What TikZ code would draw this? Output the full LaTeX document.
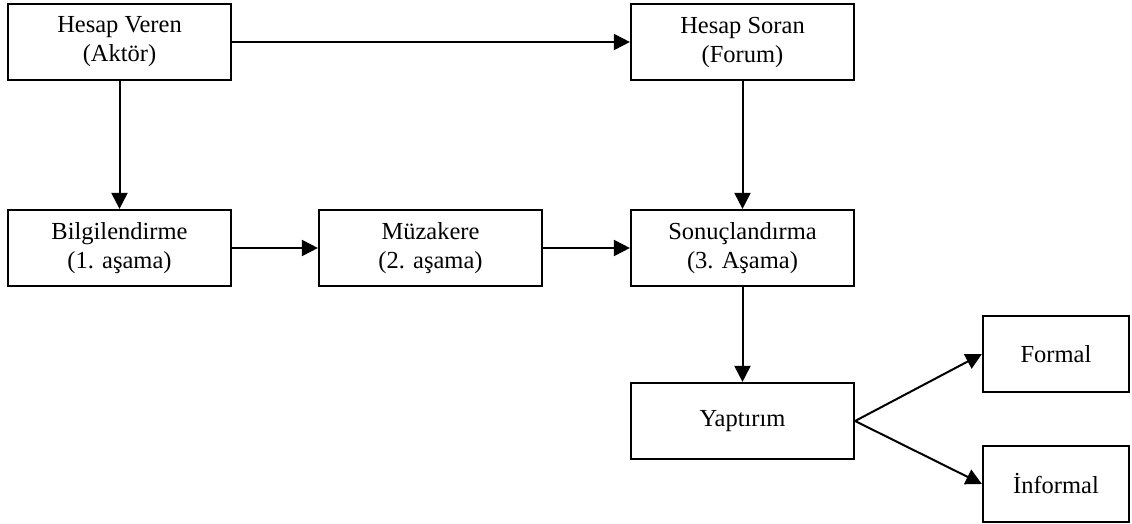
\documentclass[tikz,border=0pt]{standalone}
\usepackage{fontspec}
\setmainfont{Liberation Serif}
\usetikzlibrary{arrows.meta}
\begin{document}
\begin{tikzpicture}[x=1pt,y=-1pt,
  box/.style={draw,line width=2.2pt,minimum width=223pt,minimum height=76pt,inner sep=0pt,align=center,font=\fontsize{24.5}{29}\selectfont},
  smallbox/.style={box,minimum width=146pt},
  arr/.style={line width=2pt,-{Triangle[length=16pt,width=16pt]}}]
\useasboundingbox (0,0) rectangle (1132,524);
\node[box] (hv) at (119.5,42) {Hesap Veren\\(Aktör)};
\node[box] (hs) at (742.5,42) {Hesap Soran\\(Forum)};
\node[box] (bil) at (119.5,248) {Bilgilendirme\\(1. aşama)};
\node[box] (muz) at (430.5,248) {Müzakere\\(2. aşama)};
\node[box] (son) at (742.5,248) {Sonuçlandırma\\(3. Aşama)};
\node[box] (yap) at (742.5,421) {Yaptırım};
\node[smallbox] (for) at (1056,354) {Formal};
\node[smallbox] (inf) at (1056,484) {İnformal};
\draw[arr] (hv.east) -- (hs.west);
\draw[arr] (hv.south) -- (bil.north);
\draw[arr] (hs.south) -- (son.north);
\draw[arr] (bil.east) -- (muz.west);
\draw[arr] (muz.east) -- (son.west);
\draw[arr] (son.south) -- (yap.north);
\draw[arr] (yap.east) -- (for.west);
\draw[arr] (yap.east) -- (inf.west);
\end{tikzpicture}
\end{document}
